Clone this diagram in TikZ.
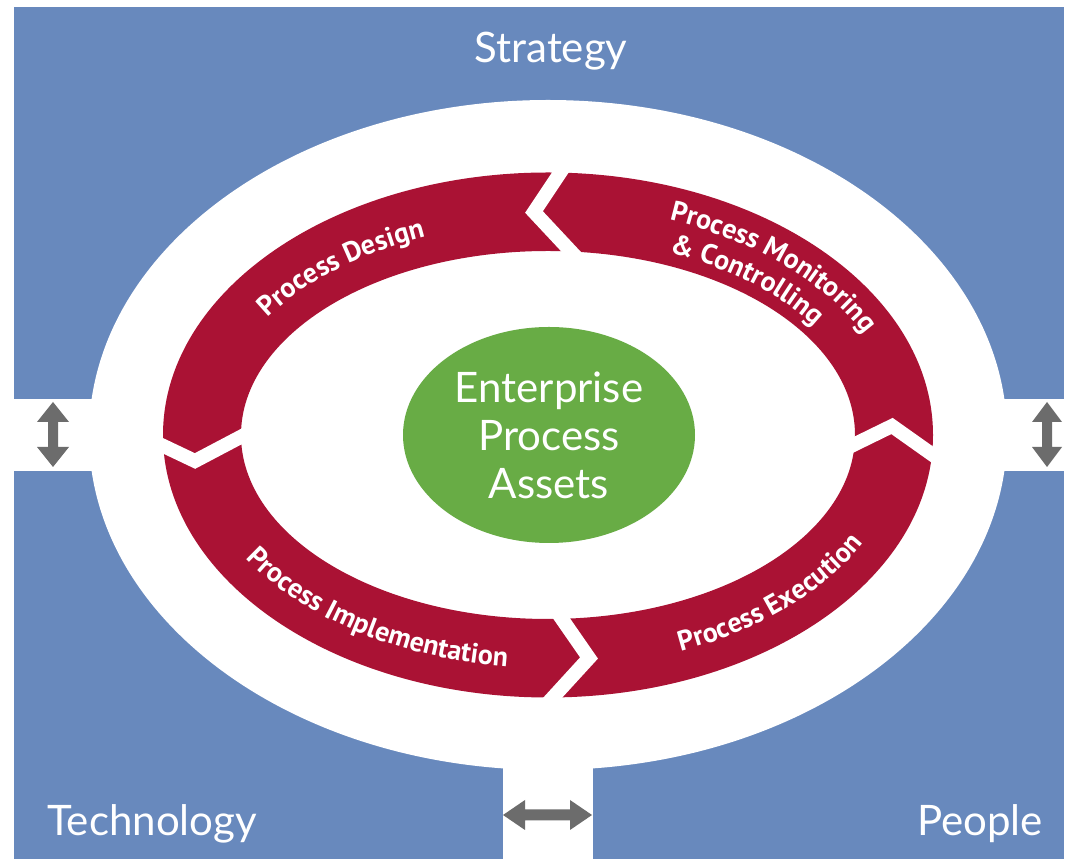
\documentclass[tikz,border=0pt]{standalone}
\usepackage{fontspec}
\setmainfont{Lato}
\newfontfamily\ringfamily{PT Sans}
\usetikzlibrary{shapes.geometric,decorations.text}
\definecolor{bgblue}{RGB}{104,137,189}
\definecolor{ringred}{RGB}{170,18,52}
\definecolor{coregreen}{RGB}{104,172,69}
\definecolor{arrowgray}{RGB}{108,108,108}
\newcommand\ringfont{\ringfamily\bfseries\fontsize{28}{32}\selectfont\color{white}}
\begin{document}
\begin{tikzpicture}[x=1pt,y=1pt,
  bigtext/.style={text=white, font=\fontsize{42}{48}\selectfont, inner sep=0pt},
  gapline/.style={draw=white, line width=14pt, line join=miter, miter limit=20},
  dblarrow/.style={fill=arrowgray},
  ringlabel/.style={decorate}]
\useasboundingbox (0,0) rectangle (1066,859);
\fill[white] (0,0) rectangle (1066,859);
\coordinate (C) at (548,424);
% blue quadrants
\fill[bgblue] (14,0) rectangle (1064,852);
\fill[white] (0,388) rectangle (548,460);
\fill[white] (548,388) rectangle (1066,460);
\fill[white] (503,0) rectangle (593,424);
\fill[white] (C) ellipse[x radius=459pt, y radius=335pt];
% red ring
\fill[ringred, even odd rule] (C) ellipse[x radius=385pt, y radius=262.5pt]
  (C) ellipse[x radius=307pt, y radius=184pt];
% chevron gaps
\coordinate (topA) at (566,695); \coordinate (topB) at (534,647); \coordinate (topC) at (577,601);
\coordinate (lefA) at (155,417); \coordinate (lefB) at (195,398); \coordinate (lefC) at (250,427);
\coordinate (rigA) at (847,411); \coordinate (rigB) at (892,433); \coordinate (rigC) at (940,399);
\coordinate (botA) at (555,250); \coordinate (botB) at (589,201); \coordinate (botC) at (546,154);
\draw[gapline] (topA) -- (topB) -- (topC);
\draw[gapline] (lefA) -- (lefB) -- (lefC);
\draw[gapline] (rigA) -- (rigB) -- (rigC);
\draw[gapline] (botA) -- (botB) -- (botC);
% ring labels
\begin{scope}[shift={(548,424)}]
\path[ringlabel, decoration={text along path, text align=center,
  text={|\ringfont|Process Design}}]
  (179:336pt and 213pt) arc[start angle=179, end angle=89, x radius=336pt, y radius=213pt];
\path[ringlabel, decoration={text along path, text align=center,
  text={|\ringfont|Process Monitoring}}]
  (91:352pt and 229pt) arc[start angle=91, end angle=-5, x radius=352pt, y radius=229pt];
\path[ringlabel, decoration={text along path, text align=center,
  text={|\ringfont|{\&} Controlling}}]
  (91:320pt and 197pt) arc[start angle=91, end angle=-1, x radius=320pt, y radius=197pt];
\path[ringlabel, decoration={text along path, text align=center,
  text={|\ringfont|Process Implementation}}]
  (181:356pt and 233pt) arc[start angle=181, end angle=285, x radius=356pt, y radius=233pt];
\path[ringlabel, decoration={text along path, text align=center,
  text={|\ringfont|Process Execution}}]
  (274:356pt and 233pt) arc[start angle=274, end angle=358, x radius=356pt, y radius=233pt];
\end{scope}
% center
\node[ellipse, fill=coregreen, minimum width=292pt, minimum height=216pt, bigtext, align=center]
  (assets) at (549,424) {Enterprise\\Process\\Assets};
% corner labels
\node[bigtext, anchor=base] (strategy) at (551,796) {Strategy};
\node[bigtext, anchor=base west] (technology) at (47,23) {Technology};
\node[bigtext, anchor=base east] (people) at (1043,23) {People};
% double arrows
\fill[dblarrow] (53,457) -- (69,437) -- (58,437) -- (58,412) -- (69,412) -- (53,392)
  -- (37,412) -- (48,412) -- (48,437) -- (37,437) -- cycle;
\fill[dblarrow] (1047,457) -- (1062,437) -- (1052,437) -- (1052,412) -- (1062,412) -- (1047,392)
  -- (1032,412) -- (1042,412) -- (1042,437) -- (1032,437) -- cycle;
\fill[dblarrow] (503,44) -- (525,59) -- (525,49.5) -- (570,49.5) -- (570,59) -- (592,44)
  -- (570,29) -- (570,38.5) -- (525,38.5) -- (525,29) -- cycle;
\end{tikzpicture}
\end{document}
